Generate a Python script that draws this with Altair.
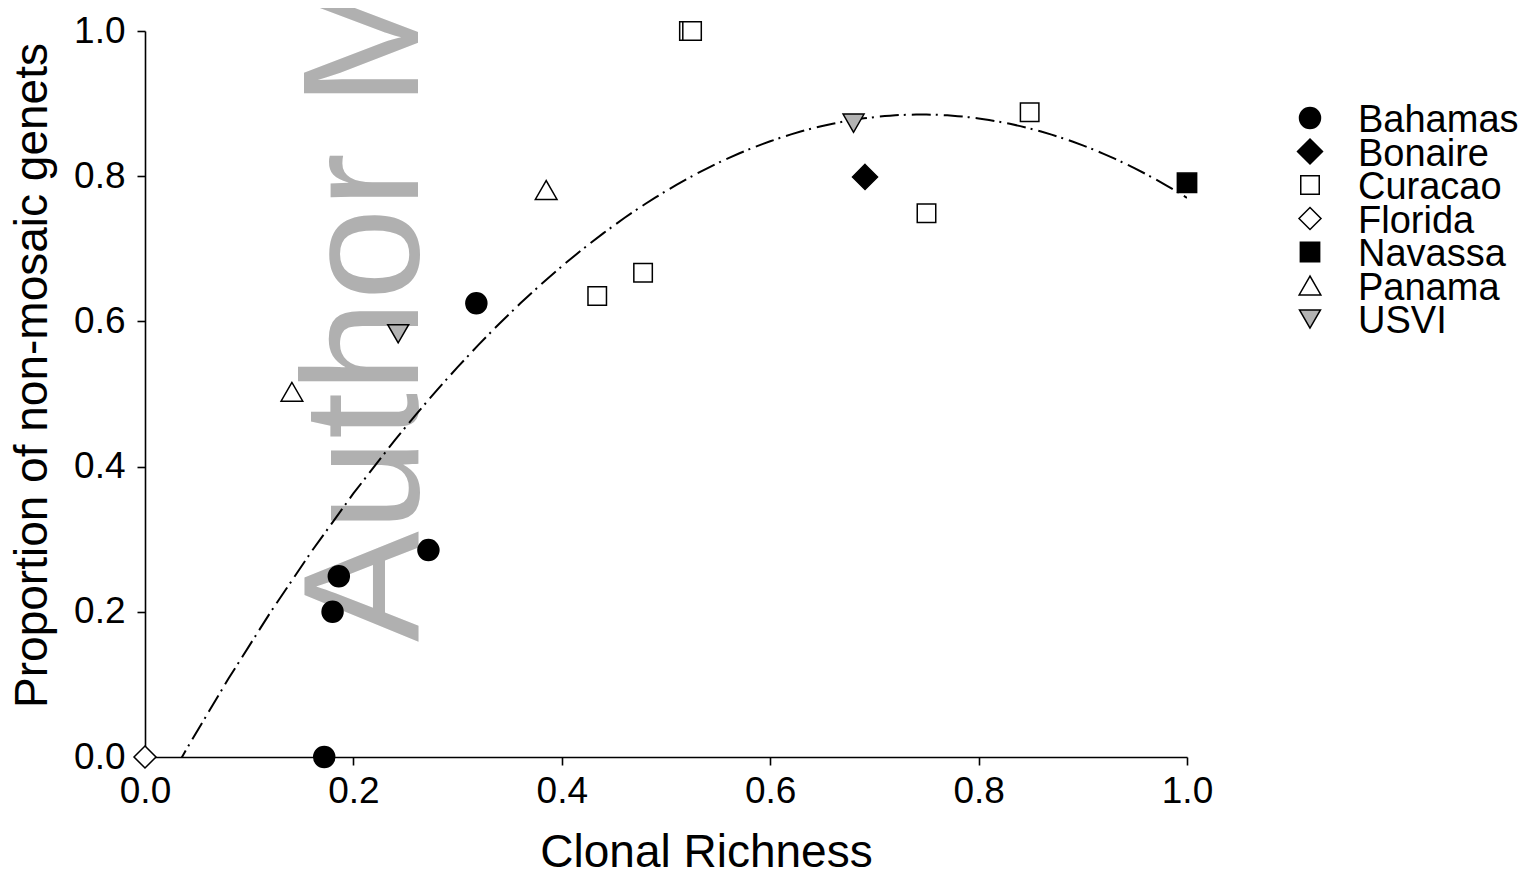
import altair as alt
import pandas as pd

# ---- data ----
site = ["Bahamas", "Bahamas", "Bahamas", "Bahamas", "Bahamas",
        "Bonaire",
        "Curacao", "Curacao", "Curacao", "Curacao", "Curacao", "Curacao",
        "Florida",
        "Navassa",
        "Panama", "Panama",
        "USVI", "USVI"]
richness = [0.172, 0.180, 0.186, 0.272, 0.318,
            0.691,
            0.522, 0.525, 0.434, 0.478, 0.750, 0.849,
            0.000,
            1.000,
            0.141, 0.385,
            0.243, 0.680]
proportion = [0.000, 0.200, 0.249, 0.285, 0.625,
              0.799,
              1.000, 1.000, 0.635, 0.667, 0.749, 0.888,
              0.000,
              0.791,
              0.503, 0.781,
              0.583, 0.873]

sites = ["Bahamas", "Bonaire", "Curacao", "Florida", "Navassa", "Panama", "USVI"]
DIAMOND = "M0,-1L1,0L0,1L-1,0Z"
shapes = ["circle", DIAMOND, "square", DIAMOND, "square", "triangle-up", "triangle-down"]
fills = ["black", "black", "white", "white", "black", "white", "#b3b3b3"]
sizes = [440, 625, 342, 484, 372, 470, 440]
ticks = [0.0, 0.2, 0.4, 0.6, 0.8, 1.0]
watermark = ["Author M"]

df = pd.DataFrame({"site": site, "x": richness, "y": proportion})
leg = pd.DataFrame({"site": sites})
wm = pd.DataFrame({"t": watermark})

FONT = "Liberation Sans"

xscale = alt.Scale(domain=[0, 1], nice=False, zero=False)
yscale = alt.Scale(domain=[0, 1], nice=False, zero=False)

xaxis = alt.Axis(values=ticks, format=".1f", title="Clonal Richness", titlePadding=21,
                 labelPadding=8, labelFlush=False, titleX=561)
yaxis = alt.Axis(values=ticks, format=".1f", title="Proportion of non-mosaic genets", orient="left",
                 titlePadding=17, labelPadding=12, labelFlush=False, titleY=344)

shape_enc = alt.Shape("site:N", scale=alt.Scale(domain=sites, range=shapes), legend=None)
fill_enc = alt.Fill("site:N", scale=alt.Scale(domain=sites, range=fills), legend=None)
size_enc = alt.Size("site:N", scale=alt.Scale(type="ordinal", domain=sites, range=sizes), legend=None)

water = alt.Chart(wm).mark_text(
    angle=270, align="left", baseline="alphabetic", fontSize=166,
    font=FONT, color="#b0b0b0", clip=False
).encode(text="t:N", x=alt.value(273), y=alt.value(611))

curve = alt.Chart(df).transform_regression(
    "x", "y", method="poly", order=2, extent=[0, 1]
).mark_line(color="black", strokeWidth=2, strokeDash=[19, 5, 2, 6], clip=True).encode(
    x=alt.X("x:Q", scale=xscale, axis=xaxis),
    y=alt.Y("y:Q", scale=yscale, axis=None),
)

points = alt.Chart(df).mark_point(filled=True, stroke="black", strokeWidth=1.5, opacity=1, clip=False).encode(
    x=alt.X("x:Q", scale=xscale, axis=xaxis),
    y=alt.Y("y:Q", scale=yscale, axis=yaxis),
    shape=shape_enc, fill=fill_enc, size=size_enc,
)

leg_y = alt.Y("site:N", scale=alt.Scale(domain=sites, range=[87, 288], padding=0), axis=None)

leg_pts = alt.Chart(leg).mark_point(filled=True, stroke="black", strokeWidth=1.5, opacity=1, clip=False).encode(
    x=alt.value(1165), y=leg_y, shape=shape_enc, fill=fill_enc, size=size_enc,
)

leg_txt = alt.Chart(leg).mark_text(
    align="left", baseline="alphabetic", dy=14, font=FONT, fontSize=38, color="black", clip=False
).encode(x=alt.value(1213), y=leg_y, text="site:N")

chart = alt.layer(water, curve, points, leg_pts, leg_txt).resolve_scale(
    y="independent"
).properties(
    width=1042, height=726,
    autosize=alt.AutoSizeParams(type="none"),
    padding={"left": 137, "top": 23, "right": 338, "bottom": 113},
    background="white",
).configure_view(stroke=None).configure_axis(
    grid=False, domainColor="black", domainWidth=1.6, tickColor="black", tickWidth=1.6,
    tickSize=8, labelFont=FONT, labelFontSize=37, labelColor="black",
    titleFont=FONT, titleFontSize=46, titleFontWeight="normal", titleColor="black",
)

chart.save("out.html", embed_options={"renderer": "svg", "actions": False})
